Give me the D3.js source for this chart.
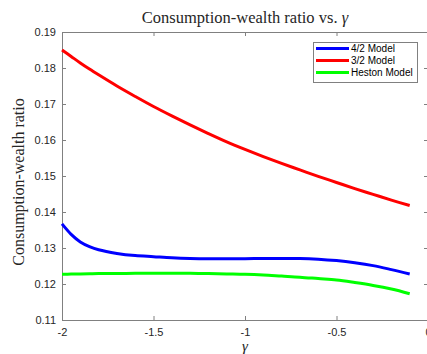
<!DOCTYPE html>
<html lang="en">
<head>
  <meta charset="UTF-8">
  <title>Consumption-wealth ratio</title>
  <style>
    body { margin: 0; background: #fff; overflow: hidden; }
    svg { display: block; }
    .tick text { font-family: "Liberation Sans", Arial, sans-serif; font-size: 11px; fill: #262626; }
    .serif { font-family: "Liberation Serif", "DejaVu Serif", serif; fill: #262626; }
  </style>
</head>
<body>
  <svg width="427" height="354"></svg>

  <script src="https://d3js.org/d3.v7.min.js"></script>
  <script>
    // gamma grid and the three curves
    var gammas = [-2, -1.95, -1.9, -1.85, -1.8, -1.7, -1.6, -1.5, -1.4, -1.3, -1.2, -1.1,
                  -1.0, -0.9, -0.8, -0.7, -0.6, -0.5, -0.4, -0.3, -0.2, -0.1];
    var model42 = [0.1367, 0.1338, 0.1317, 0.1304, 0.1295, 0.1285, 0.1279, 0.1276, 0.1273, 0.1271, 0.1270, 0.1270,
                   0.1270, 0.1271, 0.1271, 0.1271, 0.1269, 0.1265, 0.1259, 0.1251, 0.1240, 0.1228];
    var model32 = [0.1850, 0.1832, 0.1814, 0.1797, 0.1781, 0.1750, 0.1721, 0.1693, 0.1667, 0.1642, 0.1618, 0.1595,
                   0.1574, 0.1554, 0.1535, 0.1517, 0.1499, 0.1482, 0.1465, 0.1449, 0.1433, 0.1418];
    var heston = [0.1227, 0.12275, 0.1228, 0.12285, 0.1229, 0.1229, 0.1230, 0.1230, 0.1230, 0.1230, 0.1229, 0.1228,
                  0.1227, 0.1225, 0.1222, 0.1219, 0.1215, 0.1211, 0.1204, 0.1196, 0.1186, 0.1173];
    var seriesNames = ["4/2 Model", "3/2 Model", "Heston Model"];
    var seriesColors = ["#0000ff", "#ff0000", "#00ff00"];
    var xTicks = [-2, -1.5, -1, -0.5, 0];
    var yTicks = [0.11, 0.12, 0.13, 0.14, 0.15, 0.16, 0.17, 0.18, 0.19];

    var svg = d3.select("svg");
    var mLeft = 62, mRight = 428, mTop = 32, mBottom = 320;

    var x = d3.scaleLinear().domain([-2, 0]).range([mLeft, mRight]);
    var y = d3.scaleLinear().domain([0.11, 0.19]).range([mBottom, mTop]);

    var axisColor = "#808080";

    // box axes, ticks pointing inward
    svg.append("g")
      .attr("transform", "translate(0," + mBottom + ")")
      .call(d3.axisBottom(x).tickValues(xTicks).tickSize(-4).tickPadding(8)
        .tickFormat(function(d) { return String(d); }));
    svg.append("g")
      .attr("transform", "translate(0," + mTop + ")")
      .call(d3.axisTop(x).tickValues(xTicks).tickSize(-4).tickFormat(""));
    svg.append("g")
      .attr("transform", "translate(" + mLeft + ",0)")
      .call(d3.axisLeft(y).tickValues(yTicks).tickSize(-4).tickPadding(6).tickFormat(d3.format(".2f")));
    svg.append("g")
      .attr("transform", "translate(" + mRight + ",0)")
      .call(d3.axisRight(y).tickValues(yTicks).tickSize(-4).tickFormat(""));

    svg.selectAll(".domain, .tick line").attr("stroke", axisColor);

    var line = d3.line()
      .x(function(d) { return x(d[0]); })
      .y(function(d) { return y(d[1]); })
      .curve(d3.curveCatmullRom.alpha(0.5));

    [model42, model32, heston].forEach(function(vals, i) {
      svg.append("path")
        .datum(gammas.map(function(g, j) { return [g, vals[j]]; }))
        .attr("fill", "none")
        .attr("stroke", seriesColors[i])
        .attr("stroke-width", 3)
        .attr("d", line);
    });

    // title and labels
    svg.append("text").attr("class", "serif")
      .attr("x", 245).attr("y", 23)
      .attr("text-anchor", "middle").style("font-size", "16.5px")
      .html('Consumption-wealth ratio vs. <tspan font-style="italic">γ</tspan>');
    svg.append("text").attr("class", "serif")
      .attr("transform", "translate(24," + ((mTop + mBottom) / 2 + 6) + ") rotate(-90)")
      .attr("text-anchor", "middle").style("font-size", "16px")
      .text("Consumption-wealth ratio");
    svg.append("text").attr("class", "serif")
      .attr("x", 245).attr("y", 351)
      .attr("text-anchor", "middle").style("font-size", "15px").style("font-style", "italic")
      .text("γ");

    // legend
    var lg = svg.append("g");
    lg.append("rect")
      .attr("x", 313.5).attr("y", 42.5).attr("width", 104).attr("height", 40)
      .attr("fill", "#fff").attr("stroke", "#808080");
    seriesNames.forEach(function(name, i) {
      var yy = 48.5 + i * 12;
      lg.append("line")
        .attr("x1", 316).attr("x2", 349).attr("y1", yy).attr("y2", yy)
        .attr("stroke", seriesColors[i]).attr("stroke-width", 3);
      lg.append("text")
        .attr("x", 351).attr("y", yy + 3.5)
        .style("font-family", "Liberation Sans, Arial, sans-serif")
        .style("font-size", "10px").attr("fill", "#000")
        .text(name);
    });
  </script>
</body>
</html>
